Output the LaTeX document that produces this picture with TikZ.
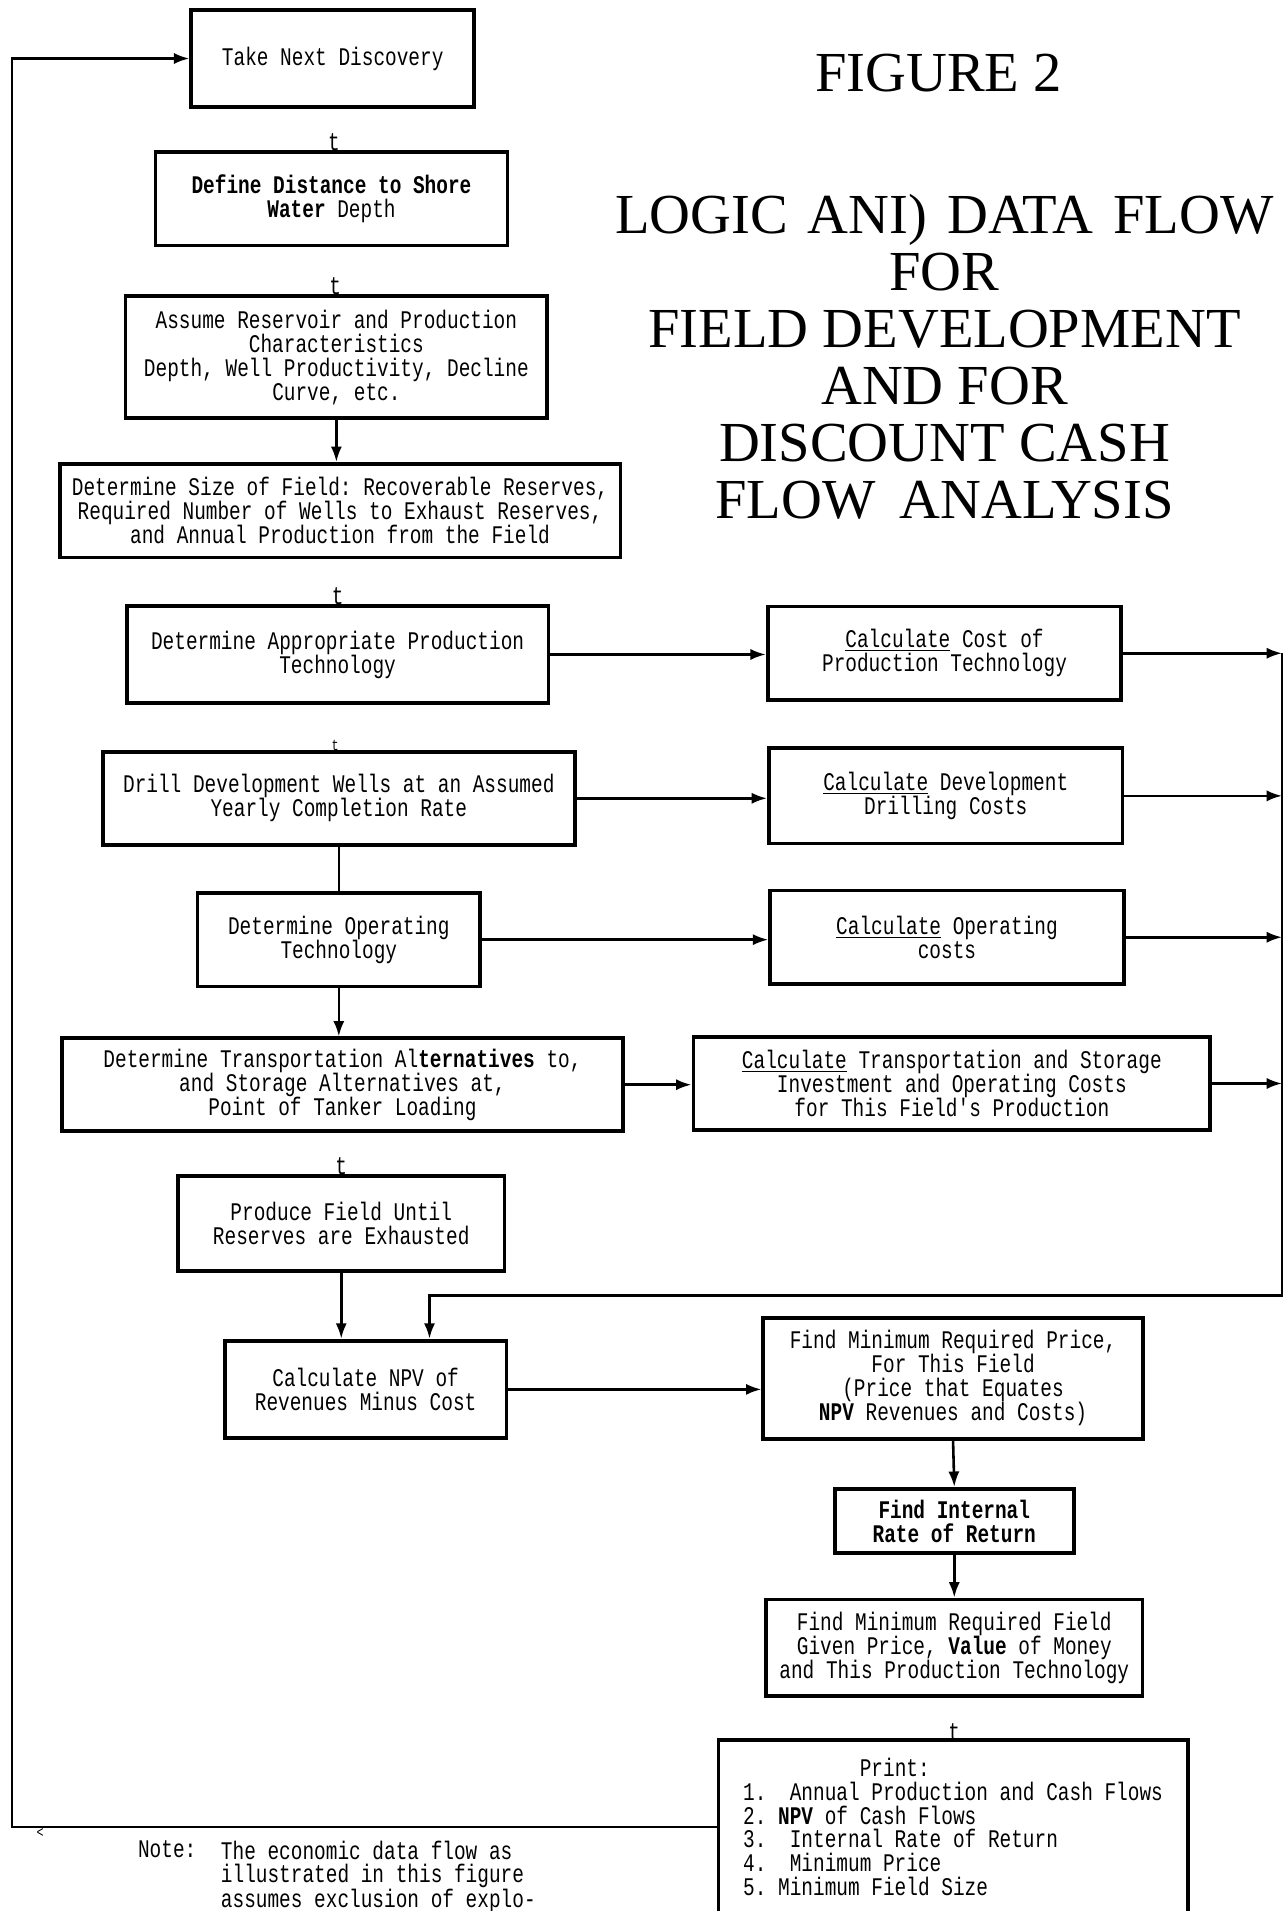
\documentclass[tikz,border=0pt]{standalone}
\usepackage{fontspec}
\setmainfont{Liberation Serif}
\setmonofont[FakeStretch=0.766]{Liberation Mono}
\usetikzlibrary{arrows.meta}

\begin{document}
\begin{tikzpicture}[x=0.025cm,y=-0.025cm,>={Latex[length=9pt,width=6.5pt]},
    box/.style={draw,line width=2.2pt,align=center,inner sep=2pt,
        font=\ttfamily\fontsize{14.8}{14}\selectfont},
    flow/.style={line width=1.5pt},
    txt/.style={inner sep=0pt,font=\ttfamily\fontsize{14.8}{13.4}\selectfont},
    head/.style={font=\fontsize{33}{33.3}\selectfont,align=center}]
\useasboundingbox (0,0) rectangle (1053,1568);
\clip (0,0) rectangle (1053,1568);

\node[head] (fig) at (770,60) {FIGURE 2};
\node[head] (title) at (775,293) {LOGIC\hspace{0.12cm} ANI)\hspace{0.12cm} DATA\hspace{0.12cm} FLOW\\FOR\\FIELD DEVELOPMENT\\AND FOR\\DISCOUNT CASH\\FLOW\hspace{0.2cm} ANALYSIS};

\node[box,minimum width=5.8cm,minimum height=2cm] (disc) at (273,48) {Take Next Discovery};
\node[box,minimum width=7.22cm,minimum height=1.92cm] (dist) at (272,163) {\textbf{Define Distance to Shore}\\\textbf{Water} Depth};
\node[box,minimum width=8.65cm,minimum height=2.5cm] (assume) at (276,293) {Assume Reservoir and Production\\Characteristics\\Depth, Well Productivity, Decline\\Curve, etc.};
\node[box,minimum width=11.5cm,minimum height=1.92cm] (size) at (279,419) {Determine Size of Field: Recoverable Reserves,\\Required Number of Wells to Exhaust Reserves,\\and Annual Production from the Field};
\node[box,minimum width=8.65cm,minimum height=1.98cm] (tech) at (277,537) {Determine Appropriate Production\\Technology};
\node[box,minimum width=7.25cm,minimum height=1.92cm] (cprod) at (775,536) {\underline{Calculate} Cost of\\Production Technology};
\node[box,minimum width=9.68cm,minimum height=1.9cm] (drill) at (278,655) {Drill Development Wells at an Assumed\\Yearly Completion Rate};
\node[box,minimum width=7.25cm,minimum height=1.95cm] (cdrill) at (776,653) {\underline{Calculate} Development\\Drilling Costs};
\node[box,minimum width=5.8cm,minimum height=1.92cm] (oper) at (278,771) {Determine Operating\\Technology};
\node[box,minimum width=7.25cm,minimum height=1.92cm] (coper) at (777,769) {\underline{Calculate} Operating\\costs};
\node[box,minimum width=11.5cm,minimum height=1.9cm] (trans) at (281,890) {Determine Transportation Al\textbf{ternatives} to,\\and Storage Alternatives at,\\Point of Tanker Loading};
\node[box,minimum width=10.6cm,minimum height=1.9cm] (ctrans) at (781,889) {\underline{Calculate} Transportation and Storage\\Investment and Operating Costs\\for This Field's Production};
\node[box,minimum width=6.7cm,minimum height=1.95cm] (produce) at (280,1004) {Produce Field Until\\Reserves are Exhausted};
\node[box,minimum width=5.78cm,minimum height=2cm] (npv) at (300,1140) {Calculate NPV of\\Revenues Minus Cost};
\node[box,minimum width=7.78cm,minimum height=2.48cm] (price) at (782,1131) {Find Minimum Required Price,\\For This Field\\(Price that Equates\\\textbf{NPV} Revenues and Costs)};
\node[box,minimum width=4.9cm,minimum height=1.32cm] (irr) at (783,1248) {\textbf{Find Internal}\\\textbf{Rate of Return}};
\node[box,minimum width=7.72cm,minimum height=1.98cm] (fsize) at (783,1352) {Find Minimum Required Field\\Given Price, \textbf{Value} of Money\\and This Production Technology};
\node[box,minimum width=9.62cm,minimum height=3.55cm,align=left,font=\ttfamily\fontsize{14.8}{13.8}\selectfont] (print) at (782,1499) {~~~~~~~~~~Print:\\1.~~Annual Production and Cash Flows\\2.~\textbf{NPV} of Cash Flows\\3.~~Internal Rate of Return\\4.~~Minimum Price\\5.~Minimum Field Size};

\node[txt] (t1) at (274,117) {t};
\node[txt] (t2) at (275,235) {t};
\node[txt] (t3) at (277,489) {t};
\node[txt,font=\ttfamily\fontsize{9}{9}\selectfont] (t4) at (275,612) {t};
\node[txt] (t5) at (280,957) {t};
\node[txt] (t6) at (783,1421) {t};
\node[txt,font=\ttfamily\fontsize{9}{9}\selectfont] (lt) at (33,1504) {<};
\node[txt,anchor=north west] (notelbl) at (113,1510) {Note:};
\node[txt,anchor=north west,align=left] (note) at (181,1510) {The economic data flow as\\illustrated in this figure\\assumes exclusion of explo-};

\coordinate (bustop) at (1052,536);
\coordinate (busbot) at (1052,1063);
\coordinate (ret) at (10,1500);

\draw[flow,->] (assume.south) -- (assume.south |- size.north);
\draw[flow,->] (tech.east) -- (tech.east -| cprod.west);
\draw[flow,->] (drill.east) -- (drill.east -| cdrill.west);
\draw[flow] (drill.south) -- (drill.south |- oper.north);
\draw[flow,->] (oper.east) -- (oper.east -| coper.west);
\draw[flow,->] (oper.south) -- (oper.south |- trans.north);
\draw[flow,->] (trans.east) -- (trans.east -| ctrans.west);
\draw[flow,->] (cprod.east) -- (cprod.east -| bustop);
\draw[flow,->] (cdrill.east) -- (cdrill.east -| bustop);
\draw[flow,->] (coper.east) -- (coper.east -| bustop);
\draw[flow,->] (ctrans.east) -- (ctrans.east -| bustop);
\draw[flow,->] (bustop) -- (busbot) -| ([xshift=1.31cm]npv.north);
\draw[flow,->] (produce.south) -- (produce.south |- npv.north);
\draw[flow,->] (npv.east) -- (npv.east -| price.west);
\draw[flow,->] (price.south) -- (irr.north);
\draw[flow,->] (irr.south) -- (fsize.north);
\draw[flow,->] (print.west) -- (print.west -| ret) |- (disc.west);
\end{tikzpicture}
\end{document}
